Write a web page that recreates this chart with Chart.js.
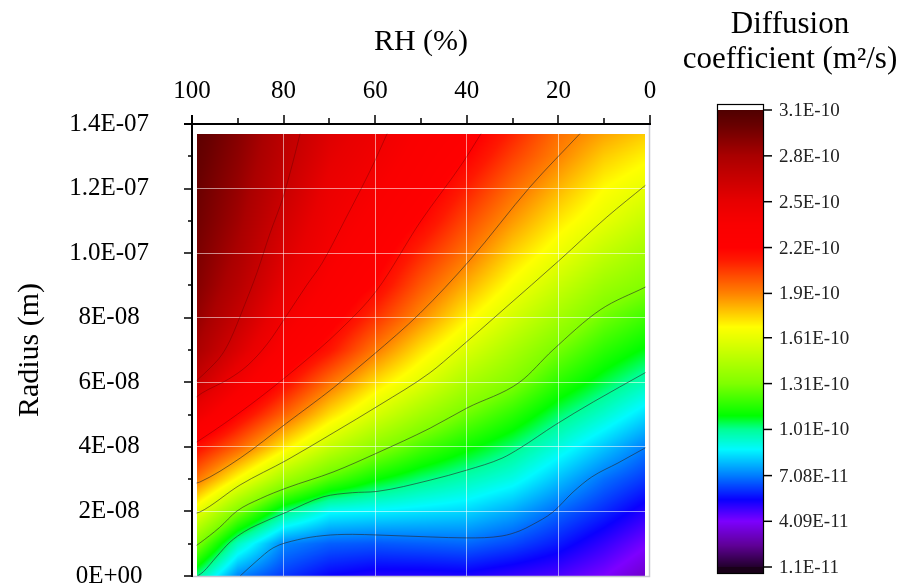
<!DOCTYPE html>
<html><head><meta charset="utf-8">
<script src="https://cdn.jsdelivr.net/npm/chart.js@4.4.1/dist/chart.umd.min.js"></script>
<style>html,body{margin:0;padding:0;background:#fff;}#wrap{width:904px;height:585px;}</style>
</head><body><div id="wrap"><canvas id="c" width="904" height="585"></canvas></div>
<script>
// ---------- DATA ----------
// Radius values are in units of 1e-8 m, diffusion coefficients in units of 1e-10 m^2/s
const yTickValues = [0, 2, 4, 6, 8, 10, 12, 14];
const yTickLabels = ['0E+00', '2E-08', '4E-08', '6E-08', '8E-08', '1.0E-07', '1.2E-07', '1.4E-07'];
const xMinorTicks = [90, 70, 50, 30, 10];
const yMinorTicks = [1, 3, 5, 7, 9, 11, 13];

const rhNodes = [99, 90, 80, 70, 60, 50, 40, 30, 20, 10, 1];
const radiusNodes = [0, 1, 2, 3, 4, 5, 6, 7, 8, 9, 10, 11, 12, 13, 13.7];
// rows: radiusNodes (bottom -> top), columns: rhNodes
const diffusion = [
  [1.02, 0.72, 0.62, 0.55, 0.52, 0.52, 0.53, 0.50, 0.47, 0.41, 0.33],
  [1.32, 0.96, 0.72, 0.67, 0.66, 0.67, 0.68, 0.64, 0.58, 0.50, 0.42],
  [1.62, 1.31, 1.03, 0.89, 0.87, 0.85, 0.83, 0.77, 0.68, 0.60, 0.52],
  [1.93, 1.67, 1.41, 1.23, 1.11, 1.03, 0.97, 0.91, 0.80, 0.69, 0.62],
  [2.16, 1.97, 1.72, 1.51, 1.35, 1.22, 1.12, 1.03, 0.92, 0.81, 0.71],
  [2.45, 2.20, 1.97, 1.74, 1.56, 1.41, 1.28, 1.17, 1.04, 0.94, 0.84],
  [2.66, 2.42, 2.17, 1.94, 1.74, 1.59, 1.43, 1.32, 1.17, 1.06, 0.97],
  [2.80, 2.57, 2.32, 2.14, 1.92, 1.73, 1.57, 1.43, 1.29, 1.17, 1.09],
  [2.87, 2.67, 2.42, 2.25, 2.07, 1.88, 1.70, 1.55, 1.41, 1.28, 1.20],
  [2.92, 2.74, 2.50, 2.33, 2.19, 1.99, 1.82, 1.66, 1.52, 1.39, 1.32],
  [2.95, 2.79, 2.56, 2.39, 2.26, 2.09, 1.93, 1.76, 1.63, 1.50, 1.41],
  [2.98, 2.83, 2.61, 2.43, 2.32, 2.19, 2.02, 1.86, 1.72, 1.61, 1.51],
  [3.00, 2.86, 2.66, 2.47, 2.37, 2.26, 2.11, 1.95, 1.81, 1.68, 1.61],
  [3.03, 2.89, 2.70, 2.52, 2.42, 2.31, 2.20, 2.04, 1.90, 1.77, 1.70],
  [3.05, 2.91, 2.72, 2.55, 2.45, 2.34, 2.25, 2.10, 1.94, 1.84, 1.77]
];

// contour lines: [RH (%), radius (1e-8 m)]
const contour0708 = [[89.5,0],[86,0.45],[82.3,0.87],[77,1.12],[71.4,1.25],[65,1.29],[59.6,1.27],[48,1.21],[40,1.18],[32.3,1.24],[28.4,1.4],[25.8,1.58],[21.2,1.98],[16.8,2.6],[12.7,3.07],[7,3.5],[1,3.97]];
const contour101 = [[98.8,0],[97.6,0.12],[94.5,0.62],[91.7,1.05],[88.5,1.38],[85.8,1.58],[79.3,1.98],[71.4,2.45],[65,2.58],[59.6,2.62],[48,2.97],[40,3.28],[32.3,3.65],[28.4,3.96],[20.7,4.68],[12.4,5.39],[1,6.3]];
const contour131 = [[99,0.95],[98.3,1.02],[94,1.5],[90.2,2.01],[85,2.4],[79.3,2.73],[69.2,3.22],[59.6,3.81],[48,4.58],[40,5.2],[28.4,6.01],[21.2,7.0],[10.9,8.24],[1,8.95]];
const contour161 = [[99,1.95],[98.3,1.98],[89.5,2.82],[79.3,3.59],[69.2,4.43],[59,5.3],[48,6.3],[42.1,7.0],[32.1,8.24],[19.7,9.79],[9.4,11.12],[1,12.1]];
const contour190 = [[99,2.88],[98.3,2.91],[89.5,3.65],[79.3,4.74],[69.2,5.82],[60.5,6.84],[50.2,8.14],[39.3,9.79],[26.2,12.05],[15.3,13.7]];
const contour220 = [[99,4.15],[98.3,4.21],[87.3,5.3],[76.4,6.53],[67.7,7.62],[59.6,8.86],[50.2,10.96],[40.8,12.82],[36.9,13.7]];
const contour250 = [[99,5.55],[97.8,5.67],[92,6.1],[87.8,6.53],[83.5,7.2],[79.7,7.99],[75,9.0],[71.6,9.69],[66.6,11.03],[60.5,12.73],[57.4,13.7]];
const contour280 = [[99,6.05],[96,6.45],[93.5,6.85],[91.7,7.3],[88.5,8.4],[85.8,9.4],[83,10.6],[80.1,11.74],[78,12.8],[76.4,13.7]];

const cbTickValues = [3.1, 2.8, 2.5, 2.2, 1.9, 1.61, 1.31, 1.01, 0.708, 0.409, 0.11];
const cbTickLabels = ['3.1E-10','2.8E-10','2.5E-10','2.2E-10','1.9E-10','1.61E-10','1.31E-10','1.01E-10','7.08E-11','4.09E-11','1.1E-11'];

// ---------- STYLE ----------
const FONT = "'Liberation Serif', 'Times New Roman', serif";
const cmapStops = [
  [0.11,[35,0,45]],[0.25,[95,0,150]],[0.409,[125,0,255]],[0.55,[10,0,255]],
  [0.708,[0,125,255]],[0.88,[0,250,255]],[1.01,[0,255,150]],[1.10,[0,255,0]],
  [1.31,[128,255,0]],[1.61,[232,255,0]],[1.68,[255,255,0]],[1.9,[255,130,0]],
  [2.12,[255,25,0]],[2.2,[255,0,0]],[2.35,[250,0,0]],[2.5,[232,0,0]],[2.8,[170,0,0]],
  [3.0,[105,0,0]],[3.1,[80,0,0]]
];
function cmap(v) {
  if (v <= cmapStops[0][0]) return cmapStops[0][1];
  for (let k = 0; k < cmapStops.length - 1; k++) {
    const a = cmapStops[k], b = cmapStops[k+1];
    if (v <= b[0]) {
      const t = (v - a[0]) / (b[0] - a[0]);
      return [0,1,2].map(c => a[1][c] + (b[1][c] - a[1][c]) * t);
    }
  }
  return cmapStops[cmapStops.length-1][1];
}
function sampleField(rh, r) {
  let i = 0;
  while (i < rhNodes.length - 2 && rh < rhNodes[i+1]) i++;
  let t = (rhNodes[i] - rh) / (rhNodes[i] - rhNodes[i+1]);
  t = Math.max(0, Math.min(1, t));
  let j = 0;
  while (j < radiusNodes.length - 2 && r > radiusNodes[j+1]) j++;
  let u = (r - radiusNodes[j]) / (radiusNodes[j+1] - radiusNodes[j]);
  u = Math.max(0, Math.min(1, u));
  const a = diffusion[j][i], b = diffusion[j][i+1], c = diffusion[j+1][i], d = diffusion[j+1][i+1];
  return (a*(1-t) + b*t) * (1-u) + (c*(1-t) + d*t) * u;
}

const heatmapPlugin = {
  id: 'heatmap',
  beforeDraw(chart) {
    const {ctx, scales: {x, y}} = chart;
    const x0 = Math.round(x.getPixelForValue(rhNodes[0]));
    const x1 = Math.round(x.getPixelForValue(rhNodes[rhNodes.length-1]));
    const yT = Math.round(y.getPixelForValue(radiusNodes[radiusNodes.length-1]));
    const yB = Math.round(y.getPixelForValue(radiusNodes[0]));
    const w = x1 - x0, h = yB - yT;
    const img = ctx.createImageData(w, h);
    for (let j = 0; j < h; j++) {
      const r = y.getValueForPixel(yT + j + 0.5);
      for (let i = 0; i < w; i++) {
        const rh = x.getValueForPixel(x0 + i + 0.5);
        const col = cmap(sampleField(rh, r));
        const p = (j * w + i) * 4;
        img.data[p] = col[0]; img.data[p+1] = col[1]; img.data[p+2] = col[2]; img.data[p+3] = 255;
      }
    }
    ctx.putImageData(img, x0, yT);
  },
  afterDraw(chart) {
    const {ctx, scales: {x, y}, chartArea: ca} = chart;
    ctx.save();
    // light frame right/bottom
    ctx.strokeStyle = '#c6c6d0'; ctx.lineWidth = 1.5;
    ctx.beginPath();
    ctx.moveTo(ca.right - 0.5, ca.top); ctx.lineTo(ca.right - 0.5, ca.bottom + 0.5);
    ctx.lineTo(ca.left, ca.bottom + 0.5);
    ctx.stroke();
    // axis lines
    ctx.strokeStyle = '#000'; ctx.lineWidth = 2;
    ctx.beginPath();
    ctx.moveTo(ca.left - 8, ca.top); ctx.lineTo(ca.right + 1, ca.top);
    ctx.moveTo(ca.left, ca.top - 9); ctx.lineTo(ca.left, ca.bottom + 1);
    ctx.stroke();
    // ticks
    ctx.lineWidth = 1.5;
    ctx.beginPath();
    x.ticks.forEach(tk => { const px = Math.round(x.getPixelForValue(tk.value)); ctx.moveTo(px, ca.top); ctx.lineTo(px, ca.top - 9); });
    xMinorTicks.forEach(v => { const px = Math.round(x.getPixelForValue(v)); ctx.moveTo(px, ca.top); ctx.lineTo(px, ca.top - 6); });
    yTickValues.forEach(v => { const py = Math.round(y.getPixelForValue(v)); ctx.moveTo(ca.left, py); ctx.lineTo(ca.left - 8, py); });
    yMinorTicks.forEach(v => { const py = Math.round(y.getPixelForValue(v)); ctx.moveTo(ca.left, py); ctx.lineTo(ca.left - 4, py); });
    ctx.stroke();

    // colour bar
    const cbL = 718, cbR = 763, cbTop = 110, cbBot = 567;
    const vTop = cbTickValues[0], vBot = cbTickValues[cbTickValues.length-1];
    for (let py = cbTop; py < cbBot; py++) {
      const v = vTop - (py + 0.5 - cbTop) / (cbBot - cbTop) * (vTop - vBot);
      const c = cmap(v);
      ctx.fillStyle = `rgb(${c[0]|0},${c[1]|0},${c[2]|0})`;
      ctx.fillRect(cbL, py, cbR - cbL, 1);
    }
    ctx.fillStyle = '#fff'; ctx.fillRect(cbL, 105, cbR - cbL, cbTop - 105);
    ctx.fillStyle = 'rgb(25,0,25)'; ctx.fillRect(cbL, cbBot, cbR - cbL, 573 - cbBot);
    ctx.strokeStyle = '#000'; ctx.lineWidth = 1.2;
    ctx.strokeRect(cbL - 0.5, 104.5, cbR - cbL + 1, 573 - 104);
    ctx.lineWidth = 1.5;
    ctx.fillStyle = '#222';
    ctx.font = `19px ${FONT}`;
    ctx.textAlign = 'left'; ctx.textBaseline = 'middle';
    cbTickValues.forEach((v, k) => {
      const py = cbTop + (vTop - v) / (vTop - vBot) * (cbBot - cbTop);
      ctx.beginPath(); ctx.moveTo(cbR, py); ctx.lineTo(cbR + 9, py); ctx.stroke();
      ctx.fillText(cbTickLabels[k], 779, py + 1);
    });
    // colour bar title
    ctx.fillStyle = '#000';
    ctx.font = `31px ${FONT}`;
    ctx.textAlign = 'center'; ctx.textBaseline = 'alphabetic';
    ctx.fillText('Diffusion', 790, 33);
    ctx.fillText('coefficient (m\u00B2/s)', 790, 68);
    ctx.restore();
  }
};

const gridColor = ctx => {
  const v = ctx.tick ? ctx.tick.value : null;
  return (v === 0 || v === 100 || v === 14) ? 'rgba(0,0,0,0)' : 'rgba(255,255,255,0.55)';
};

const contours = [
  {level: 0.708, pts: contour0708}, {level: 1.01, pts: contour101}, {level: 1.31, pts: contour131},
  {level: 1.61, pts: contour161}, {level: 1.9, pts: contour190}, {level: 2.2, pts: contour220},
  {level: 2.5, pts: contour250}, {level: 2.8, pts: contour280}
];

new Chart(document.getElementById('c'), {
  type: 'scatter',
  data: {
    datasets: contours.map(c => ({
      label: String(c.level),
      data: c.pts.map(p => ({x: p[0], y: p[1]})),
      showLine: true,
      borderColor: c.level >= 2.2 ? 'rgba(70,0,0,0.33)' : 'rgba(40,40,40,0.6)',
      borderWidth: 1,
      pointRadius: 0,
      cubicInterpolationMode: 'monotone'
    }))
  },
  options: {
    responsive: false, maintainAspectRatio: false, animation: false, devicePixelRatio: 1,
    layout: {padding: {left: 0, right: 254, top: 0, bottom: 9}},
    plugins: {legend: {display: false}, tooltip: {enabled: false}},
    scales: {
      x: {
        type: 'linear', position: 'top', reverse: true, min: 0, max: 100,
        afterFit(s) { s.height = 124; s.paddingLeft = 0; s.paddingRight = 0; },
        ticks: {stepSize: 20, padding: 18, maxRotation: 0, color: '#000', font: {family: FONT, size: 25}},
        grid: {drawTicks: false, lineWidth: 1, color: gridColor},
        border: {display: false},
        title: {display: true, text: 'RH (%)', color: '#000', font: {family: FONT, size: 30}, padding: {top: 24, bottom: 0}}
      },
      y: {
        type: 'linear', position: 'left', min: 0, max: 14,
        afterFit(s) { s.width = 192; s.paddingTop = 0; s.paddingBottom = 0; },
        afterBuildTicks(s) { s.ticks = yTickValues.map(v => ({value: v})); },
        ticks: {padding: 43, crossAlign: 'center', color: '#000', font: {family: FONT, size: 25},
                callback: (v, i) => yTickLabels[i]},
        grid: {drawTicks: false, lineWidth: 1, color: gridColor},
        border: {display: false},
        title: {display: true, text: 'Radius (m)', color: '#000', font: {family: FONT, size: 30}, padding: {top: 12, bottom: 0}}
      }
    }
  },
  plugins: [heatmapPlugin]
});
</script>
</body></html>
